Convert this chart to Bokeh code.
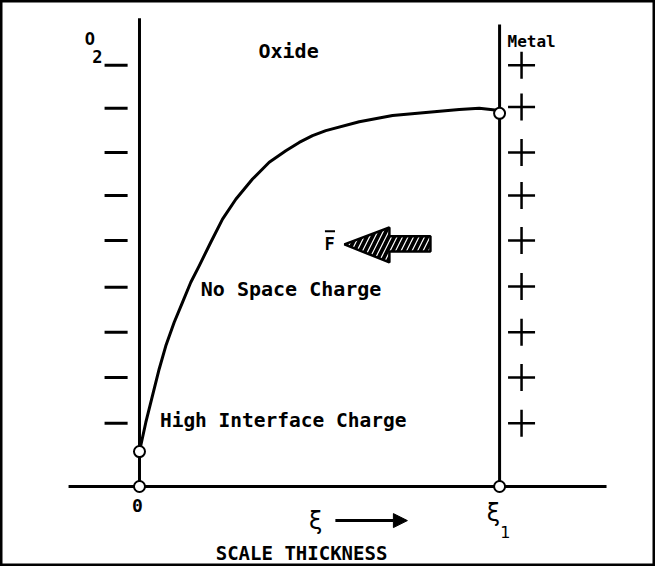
from bokeh.plotting import figure
from bokeh.models import Range1d, Arrow, NormalHead
from bokeh.core.properties import value
from bokeh.embed import file_html
from bokeh.resources import INLINE

# ---- data (x: scale thickness, 0 .. xi1 = 1 ; y: normalised O2 level) ----
curve_x = [0.0, 0.0175, 0.0361, 0.0547, 0.0731, 0.0964, 0.1194, 0.1425, 0.1658, 0.198,
           0.2306, 0.2675, 0.3139, 0.3603, 0.4064, 0.4436, 0.4806, 0.5175, 0.6103, 0.7028,
           0.7953, 0.888, 0.9436, 1.0]
curve_y = [0.083, 0.152, 0.216, 0.279, 0.334, 0.390, 0.437, 0.485, 0.524, 0.580,
           0.635, 0.682, 0.730, 0.770, 0.797, 0.817, 0.833, 0.845, 0.866, 0.881,
           0.888, 0.895, 0.898, 0.893]
charge_levels = [1.0, 0.898, 0.793, 0.691, 0.584, 0.473, 0.366, 0.259, 0.150]   # "-" ticks, first is O2
plus_levels = [1.0, 0.901, 0.793, 0.691, 0.584, 0.475, 0.366, 0.259, 0.150]
open_pts_x = [0.0, 0.0, 1.0, 1.0]
open_pts_y = [0.0, 0.083, 0.0, 0.886]
force_arrow_x = [0.569, 0.694, 0.694, 0.808, 0.808, 0.694, 0.694]
force_arrow_y = [0.575, 0.615, 0.594, 0.594, 0.558, 0.558, 0.532]

FONT = value("DejaVu Sans Mono")

p = figure(width=655, height=566,
           x_range=Range1d(-0.386, 1.433), y_range=Range1d(-0.190, 1.154),
           output_backend="svg", toolbar_location=None, min_border=0,
           x_axis_location=None, y_axis_location=None)
p.grid.visible = False
p.outline_line_color = "black"
p.outline_line_width = 4
p.background_fill_color = "white"
p.border_fill_color = "white"

# axis and boundaries
p.segment(x0=[-0.197], y0=[0], x1=[1.297], y1=[0], line_color="black", line_width=3)
p.segment(x0=[0, 1], y0=[0, 0], x1=[0, 1], y1=[1.112, 1.097], line_color="black", line_width=3)

# concentration curve
p.line(curve_x, curve_y, line_color="black", line_width=3, line_join="round", line_cap="round")

# negative charge dashes (oxide side)
p.segment(x0=[-0.097] * len(charge_levels), y0=charge_levels,
          x1=[-0.033] * len(charge_levels), y1=charge_levels,
          line_color="black", line_width=3)

# positive charges (metal side)
p.scatter(x=[1.061] * len(plus_levels), y=plus_levels, marker="cross", size=27,
          line_color="black", line_width=2.5)

# open circles
p.scatter(x=open_pts_x, y=open_pts_y, marker="circle", size=11,
          fill_color="white", line_color="black", line_width=2)

# hatched force arrow (black body with white slashes)
p.patch(force_arrow_x, force_arrow_y, fill_color="black", line_color="black", line_width=2.5,
        hatch_pattern="/", hatch_color="white", hatch_weight=1.2, hatch_scale=11)
p.text(x=[0.528], y=[0.575], text=["F"], text_font=FONT, text_font_style="bold",
       text_font_size="17px", text_align="center", text_baseline="middle")
p.segment(x0=[0.515], y0=[0.606], x1=[0.543], y1=[0.606], line_color="black", line_width=2)

# labels
def label(x, y, t, size, bold=True, font=FONT):
    p.text(x=[x], y=[y], text=[t], text_font=font, text_font_style="bold" if bold else "normal",
           text_font_size=size, text_align="center", text_baseline="middle", text_color="black")

label(0.414, 1.033, "Oxide", "20px")
label(1.089, 1.057, "Metal", "16px")
label(-0.1375, 1.062, "O", "17px")
label(-0.1167, 1.020, "2", "17px")
label(0.421, 0.468, "No Space Charge", "20px")
label(0.399, 0.157, "High Interface Charge", "19.5px")
label(-0.006, -0.045, "0", "18px")
label(0.489, -0.081, "ξ", "24px", bold=False, font=value("DejaVu Sans"))
label(0.983, -0.062, "ξ", "24px", bold=False, font=value("DejaVu Sans"))
label(1.016, -0.108, "1", "16px", bold=False, font=value("DejaVu Sans"))
label(0.45, -0.157, "SCALE THICKNESS", "19px")

p.add_layout(Arrow(end=NormalHead(size=14, fill_color="black", line_color="black"),
                   x_start=0.544, y_start=-0.081, x_end=0.744, y_end=-0.081,
                   line_color="black", line_width=3))

open("out.html", "w").write(file_html(p, INLINE))
